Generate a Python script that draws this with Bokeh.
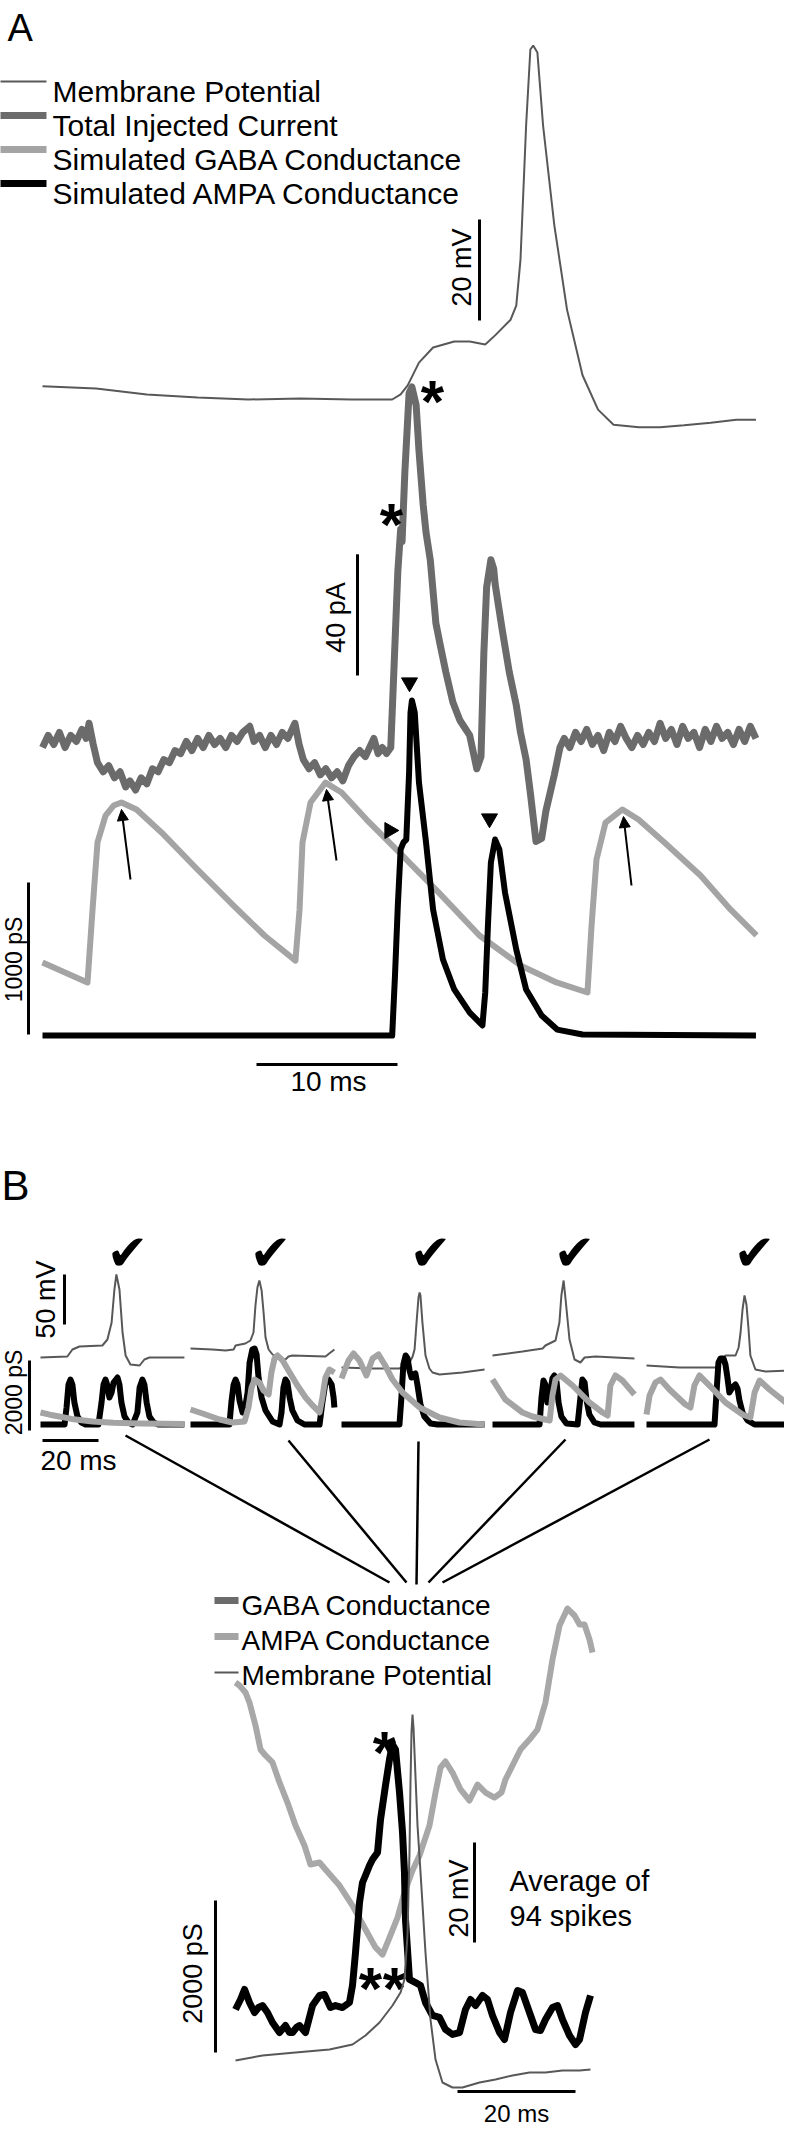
from math import pi
from bokeh.plotting import figure
from bokeh.models import Range1d, Arrow, NormalHead
from bokeh.core.properties import value
from bokeh.embed import file_html
from bokeh.resources import INLINE

# ======================= DATA =======================
# ---- Panel A (time in ms, Vm in mV, current in pA, conductance in pS)
a_t_vm = [0, 3.8, 7.4, 11.0, 14.6, 18.3, 21.9, 24.8, 25.4, 25.9, 26.7, 27.7, 29.2, 30.3, 31.4, 32.1,
          33.2, 33.6, 33.9, 34.3, 34.6, 34.8, 35.1, 35.5, 36.3, 37.2, 38.3, 39.4, 40.5, 42.3, 43.8,
          45.5, 47.4, 49.2, 50.6]
a_vm = [-62.4, -62.8, -64.0, -64.6, -65.0, -64.8, -65.0, -65.0, -64.0, -62.2, -57.7, -54.7, -53.5,
        -53.5, -54.1, -52.3, -49.2, -46.4, -37.3, -10.7, 4.3, 5.1, 3.7, -10.7, -30.5, -47.2, -60.2,
        -67.0, -70.0, -70.5, -70.5, -70.1, -69.6, -69.0, -69.0]

a_t_i = [0.0, 0.4, 0.8, 1.2, 1.6, 2.0, 2.4, 2.8, 3.1, 3.3,
         3.6, 3.9, 4.3, 4.7, 5.1, 5.5, 5.9, 6.2, 6.6, 7.0,
         7.4, 7.8, 8.2, 8.6, 9.0, 9.4, 9.8, 10.2, 10.6, 11.0,
         11.4, 11.8, 12.2, 12.6, 13.0, 13.4, 13.8, 14.2, 14.7, 15.0,
         15.4, 15.8, 16.2, 16.6, 17.0, 17.4, 17.9, 18.2, 18.5, 18.9,
         19.3, 19.7, 20.1, 20.5, 20.9, 21.3, 21.7, 22.1, 22.5, 22.9,
         23.2, 23.5, 23.8, 24.1, 24.4, 24.7, 24.9, 25.2, 25.4, 25.5,
         25.7, 26.0, 26.2, 26.5, 26.7, 27.0, 27.2, 27.5, 27.9, 28.2,
         28.6, 29.1, 29.6, 30.3, 30.8, 31.1, 31.3, 31.5, 31.8, 32.0,
         32.1, 32.6, 33.1, 33.6, 33.9, 34.3, 34.6, 35.0, 35.4, 35.7,
         36.3, 36.7, 37.0, 37.4, 37.8, 38.2, 38.6, 39.0, 39.4, 39.8,
         40.2, 40.6, 41.0, 41.4, 41.8, 42.2, 42.6, 43.0, 43.4, 43.8,
         44.2, 44.6, 45.0, 45.4, 45.8, 46.2, 46.6, 47.0, 47.4, 47.8,
         48.2, 48.6, 49.0, 49.4, 49.8, 50.2, 50.6]
a_i = [-1, 3, 0, 4, -1, 3, 1, 5, 2, 7,
       0, -6, -9, -7, -11, -9, -14, -12, -15, -11,
       -13, -8, -9, -5, -6, -2, -3, 1, -2, 2,
       -1, 3, 0, 2, -1, 3, 1, 4, 6, 1,
       3, -1, 3, 0, 4, 2, 7, 0, -5, -8,
       -6, -10, -8, -11, -9, -12, -7, -4, -2, -4,
       -1, 2, -3, -1, -3, -1, 22, 57, 71, 67,
       90, 116, 118, 112, 97, 79, 70, 61, 40, 33,
       24, 14, 8, 3, -8, -4, 30, 52, 61, 58,
       53, 38, 24, 13, 4, -5, -16, -32, -31, -22,
       -10, -1, 2, -1, 4, 1, 5, 0, 3, -2,
       4, 1, 6, 2, -1, 3, 0, 4, 1, 7,
       2, 5, 0, 6, 2, 4, -1, 5, 1, 6,
       2, 4, 0, 5, 1, 6, 2]

a_t_gaba = [0, 3.19, 3.55, 3.90, 4.47, 5.04, 5.60, 6.67, 8.44, 10.99, 13.55, 15.74, 17.94,
            18.23, 18.44, 19.01, 20.07, 21.21, 22.98, 25.53, 28.09, 30.99, 33.90, 36.45, 38.65,
            38.94, 39.29, 39.93, 41.13, 42.27, 44.11, 46.67, 48.79, 50.64]
a_gaba = [480, 349, 829, 1270, 1447, 1513, 1533, 1487, 1336, 1092, 855, 658, 493,
          829, 1270, 1533, 1664, 1599, 1421, 1184, 941, 658, 461, 349, 283,
          724, 1158, 1401, 1487, 1421, 1270, 1053, 829, 658]

a_t_ampa = [0, 24.8, 25.0, 25.2, 25.4, 25.6, 25.8, 26.0, 26.1, 26.2, 26.4, 26.7, 27.2, 27.7, 28.4,
            29.2, 30.3, 31.2, 31.4, 31.6, 31.8, 32.1, 32.4, 32.8, 33.6, 34.3, 35.4, 36.5, 38.3, 50.6]
a_ampa = [0, 0, 395, 855, 1224, 1270, 1289, 1730, 2125, 2204, 2125, 1664, 1270, 829, 500,
          303, 151, 66, 283, 743, 1138, 1289, 1224, 941, 566, 303, 132, 39, 7, 0]

# ---- Panel B, five example spikes (time in ms from window start)
b1_t_vm = [0, 9.6, 11.4, 13.9, 22.1, 23.9, 25.4, 26.4, 27.1, 28.2, 29.3, 30.4, 32.1, 35.4, 37.1, 38.9, 51.4]
b1_vm = [-65, -64, -57, -54, -53, -47, -30, 3, 18, 3, -40, -63, -72, -73, -67, -65, -65]
b1_t_ampa = [0, 8.6, 9.3, 10.0, 10.7, 11.4, 12.1, 13.2, 14.6, 16.1, 20.7, 21.8, 22.5, 23.2, 23.9, 24.6,
             25.4, 26.1, 27.5, 28.2, 28.9, 30.0, 31.4, 32.9, 34.6, 35.4, 36.4, 37.1, 37.9, 38.9,
             40.4, 42.1, 51.4]
b1_ampa = [0, 0, 486, 1143, 1286, 1143, 629, 229, 57, 0, 0, 629, 1143, 1286, 1114, 771,
           914, 1200, 1343, 1143, 629, 229, 57, 0, 343, 1057, 1286, 1143, 629, 229, 57, 0, 0]
b1_t_gaba = [0, 3.3, 6.7, 11.0, 18.6, 26.0, 36.0, 51.4]
b1_gaba = [343, 280, 229, 160, 86, 50, 29, 15]

b2_t_vm = [0, 7.9, 12.5, 15.4, 16.1, 19.6, 21.4, 22.5, 23.2, 23.9, 24.6, 25.4, 26.1, 26.8, 27.9,
           29.3, 31.8, 33.9, 35.0, 36.4, 48.2, 50.0, 51.4]
b2_vm = [-56, -57, -58, -57, -53, -51, -48, -40, -13, 5, 12, 2, -20, -45, -57, -62, -66, -67,
         -64, -63, -64, -60, -57]
b2_t_ampa = [0, 13.9, 14.6, 15.4, 16.1, 16.8, 17.5, 18.6, 19.3, 20.4, 21.1, 22.1, 22.9, 23.6, 24.3,
             25.4, 26.8, 29.3, 31.8, 32.5, 33.2, 33.9, 34.6, 35.4, 36.4, 38.2, 40.7, 46.1, 47.1,
             48.2, 49.3, 50.4, 51.1, 51.4]
b2_ampa = [0, 0, 629, 1143, 1286, 1143, 686, 343, 400, 914, 1771, 2143, 2171, 2000, 1343, 771,
           400, 86, 0, 343, 1057, 1286, 1200, 771, 400, 114, 0, 0, 629, 1200, 1286, 1143, 771, 486]
b2_t_gaba = [0, 4.3, 10.4, 15.0, 19.3, 20.7, 21.8, 22.9, 24.6, 26.1, 27.9, 28.9, 30.0, 31.1, 32.9,
             35.4, 38.2, 41.1, 43.6, 46.1, 47.1, 48.2, 49.6, 51.4]
b2_gaba = [429, 314, 143, 57, 86, 486, 1057, 1286, 1200, 971, 857, 1486, 1886, 1971, 1829,
           1486, 1114, 771, 543, 343, 771, 1343, 1571, 1486]

b3_t_vm = [0, 11.1, 20.7, 22.9, 24.3, 25.4, 26.1, 26.8, 27.5, 27.9, 28.2, 28.9, 30.0, 31.4, 32.5,
           35.0, 43.2, 51.1]
b3_vm = [-75, -76, -76, -73, -70, -64, -57, -30, -5, 0, -3, -30, -63, -76, -80, -82, -80, -77]
b3_t_ampa = [0, 20.7, 21.4, 22.1, 22.9, 23.6, 24.3, 25.0, 25.7, 26.4, 27.1, 28.2, 29.6, 31.8, 34.3, 51.1]
b3_ampa = [0, 0, 771, 1714, 1971, 1886, 1543, 1343, 1429, 1457, 1143, 571, 229, 29, 0, 0]
b3_t_gaba = [0, 2.5, 4.3, 6.4, 8.9, 11.1, 13.2, 15.4, 18.2, 21.8, 27.9, 35.0, 42.1, 51.1]
b3_gaba = [1314, 1829, 2029, 1829, 1400, 1886, 2000, 1714, 1286, 914, 486, 200, 57, 0]

b4_t_vm = [0, 10.7, 17.9, 18.9, 22.5, 23.9, 24.6, 25.4, 26.1, 27.5, 29.3, 31.4, 32.9, 36.8, 50.7]
b4_vm = [-63, -59, -56, -53, -48, -30, -3, 12, -7, -47, -67, -70, -65, -64, -66]
b4_t_ampa = [0, 16.8, 17.5, 18.2, 18.9, 19.6, 20.7, 21.4, 22.1, 22.9, 23.6, 24.6, 26.4, 30.4, 31.4,
             32.1, 32.9, 33.6, 34.6, 36.4, 38.6, 50.7]
b4_ampa = [0, 0, 771, 1257, 1143, 629, 914, 1314, 1400, 1200, 629, 229, 29, 0, 771, 1286, 1200,
           686, 286, 57, 0, 0]
b4_t_gaba = [0, 4.6, 10.7, 14.3, 20.4, 21.4, 22.5, 24.3, 28.6, 34.6, 39.3, 41.1, 42.1, 43.9, 46.4, 50.7]
b4_gaba = [1286, 714, 343, 229, 114, 829, 1286, 1400, 1114, 629, 343, 257, 1114, 1400, 1257, 857]

b5_t_vm = [0, 11.8, 24.6, 26.4, 28.2, 31.8, 32.9, 33.6, 34.3, 35.0, 35.7, 36.4, 37.1, 38.9, 42.5, 51.1]
b5_vm = [-73, -75, -75, -70, -63, -63, -55, -40, -17, -3, -12, -35, -63, -77, -79, -78]
b5_t_ampa = [0, 24.3, 25.0, 25.7, 26.4, 27.5, 28.2, 28.9, 29.6, 30.7, 31.8, 32.5, 33.2, 34.3, 36.1, 38.6, 51.1]
b5_ampa = [0, 0, 914, 1771, 1886, 1886, 1714, 1343, 914, 1057, 1143, 1029, 686, 343, 114, 0, 0]
b5_t_gaba = [0, 1.1, 3.2, 5.0, 8.2, 13.9, 15.7, 17.1, 18.9, 22.5, 28.2, 34.3, 37.1, 38.6, 40.4, 43.9, 51.1]
b5_gaba = [286, 829, 1200, 1286, 1000, 571, 486, 1114, 1400, 1114, 629, 286, 200, 914, 1257, 1000, 543]

# ---- Panel B, spike-triggered average of 94 spikes
c_t_gray = [0.0, 0.68, 1.69, 2.37, 3.39, 4.24, 5.08, 6.27, 7.46, 8.81,
            10.17, 11.69, 12.71, 14.24, 15.25, 16.44, 17.63, 19.83, 22.03, 23.73,
            24.92, 26.10, 27.46, 28.64, 30.0, 31.19, 32.88, 33.90, 34.75, 35.59,
            36.78, 38.14, 39.66, 41.02, 42.37, 43.90, 45.08, 45.76, 46.95, 48.31,
            49.83, 51.19, 52.54, 53.73, 54.92, 56.27, 57.46, 58.31, 59.15, 60.0, 60.51]
c_gray = [4868, 4829, 4737, 4605, 4303, 3987, 3908, 3816, 3553, 3289,
          2987, 2724, 2474, 2500, 2408, 2303, 2197, 1934, 1618, 1382,
          1289, 1513, 1776, 2105, 2395, 2592, 2987, 3421, 3750, 3829,
          3684, 3461, 3316, 3526, 3421, 3355, 3421, 3592, 3776, 3987,
          4118, 4250, 4605, 5171, 5618, 5842, 5750, 5632, 5632, 5434, 5263]
c_t_black = [0.0, 0.85, 1.53, 2.37, 3.22, 3.90, 4.58, 5.42, 6.27, 7.46,
             8.47, 9.15, 9.66, 10.34, 10.85, 11.86, 13.05, 14.24, 15.08, 16.10,
             16.95, 18.14, 19.32, 19.83, 20.34, 21.02, 21.53, 22.03, 22.71, 23.22,
             24.07, 24.58, 25.42, 26.10, 26.61, 27.12, 27.80, 28.31, 28.64, 28.81,
             29.49, 30.51, 31.36, 32.20, 33.39, 34.58, 35.59, 36.78, 37.97, 38.98,
             39.83, 40.68, 41.86, 42.71, 43.56, 44.75, 45.59, 46.61, 47.80, 48.64,
             49.83, 50.85, 51.69, 52.54, 53.73, 54.58, 55.42, 56.61, 57.63, 58.31,
             59.32, 60.17]
c_black = [566, 697, 829, 658, 526, 592, 618, 526, 395, 263,
           355, 263, 263, 329, 355, 263, 618, 750, 763, 592,
           618, 592, 658, 882, 1316, 1974, 2237, 2329, 2461, 2539,
           2632, 3066, 3513, 3855, 4053, 3987, 3421, 2895, 2368, 1750,
           961, 921, 882, 658, 487, 461, 303, 237, 263, 566,
           697, 618, 750, 697, 487, 263, 171, 526, 816, 789,
           526, 303, 289, 434, 592, 618, 434, 224, 105, 171,
           526, 750]
c_t_vm = [0.0, 4.58, 10.17, 15.93, 19.83, 22.03, 24.41, 26.61, 27.97, 28.64,
          29.15, 29.49, 29.66, 29.83, 30.0, 30.17, 30.34, 30.85, 31.36, 32.20,
          33.05, 33.90, 35.08, 36.78, 38.47, 41.36, 44.07, 46.95, 49.83, 52.54,
          55.42, 58.31, 60.17]
c_vm = [-65.0, -64.0, -63.4, -62.8, -61.8, -60.0, -57.4, -54.0, -51.4, -48.8,
        -40.0, -23.4, -9.4, 0.6, 4.2, 1.6, -3.4, -18.0, -27.4, -43.4,
        -56.8, -64.8, -69.4, -70.4, -70.4, -69.4, -68.8, -68.0, -67.4, -67.4,
        -67.0, -67.0, -66.8]

legend_a = ["Membrane Potential", "Total Injected Current",
            "Simulated GABA Conductance", "Simulated AMPA Conductance"]
legend_c = ["GABA Conductance", "AMPA Conductance", "Membrane Potential"]

# ======================= LAYOUT =======================
W, H = 784, 2130
L, T = 8, 8
FONT = "Liberation Sans"
C_VM = "#585858"
C_CUR = "#6b6b6b"
C_LIGHT = "#a4a4a4"


def xr(px, val, ppu):
    return Range1d(start=val - (px - L) / ppu, end=val + (L + W - px) / ppu)


def yr(py, val, ppu):
    return Range1d(start=val - (T + H - py) / ppu, end=val + (py - T) / ppu)


def xv(px, sc):
    return sc[1] + (px - sc[0]) / sc[2]


def yv(py, sc):
    return sc[1] + (sc[0] - py) / sc[2]


# (anchor pixel, value at anchor, pixels per unit)
SA_T = (50, 0, 14.1)
SA_V = (407, -65, 5.05)
SA_I = (752, 0, 3.03)
SA_G = (1043, 0, 0.152)
SB_X0 = [48, 198, 349, 500, 654]
SB_T = 2.8
SB_V = (1365, -65, 1.0)
SB_G = (1432, 0, 0.035)
SC_T = (243, 0, 5.9)
SC_V = (2068, -65, 5.0)
SC_G = (2060, 0, 0.076)

p = figure(width=W, height=H, x_range=Range1d(L, L + W), y_range=Range1d(T + H, T),
           x_axis_location=None, y_axis_location=None, toolbar_location=None,
           output_backend="svg", min_border=0, outline_line_color=None,
           background_fill_color="white", border_fill_color="white")
p.grid.visible = False

xranges = {"tA": xr(*SA_T), "tC": xr(*SC_T)}
for k, x0 in enumerate(SB_X0):
    xranges[f"tB{k}"] = xr(x0, 0, SB_T)
p.extra_x_ranges = xranges
p.extra_y_ranges = {"vA": yr(*SA_V), "iA": yr(*SA_I), "gA": yr(*SA_G),
                    "vB": yr(*SB_V), "gB": yr(*SB_G), "vC": yr(*SC_V), "gC": yr(*SC_G)}

# ---------------- Panel A ----------------
p.line(a_t_vm, a_vm, x_range_name="tA", y_range_name="vA", line_color=C_VM, line_width=2)
p.line(a_t_i, a_i, x_range_name="tA", y_range_name="iA", line_color=C_CUR, line_width=7,
       line_join="round")
p.line(a_t_gaba, a_gaba, x_range_name="tA", y_range_name="gA", line_color=C_LIGHT, line_width=6,
       line_join="round")
p.line(a_t_ampa, a_ampa, x_range_name="tA", y_range_name="gA", line_color="black", line_width=6,
       line_join="round")

# legend A
for i, (lw, col) in enumerate([(2, C_VM), (7, C_CUR), (7, C_LIGHT), (7, "black")]):
    yy = 89 + i * 34
    p.line([6, 54], [yy, yy], line_color=col, line_width=lw)
p.text(x=[60] * 4, y=[99 + i * 34 for i in range(4)], text=legend_a, text_font=value(FONT),
       text_font_size="30px", text_baseline="alphabetic", text_align="left", text_color="black")

# scale bars A
p.line([487, 487], [yv(328, SA_V), yv(328, SA_V) + 20], y_range_name="vA", line_color="black", line_width=3)
p.line([365, 365], [yv(683, SA_I), yv(683, SA_I) + 40], y_range_name="iA", line_color="black", line_width=3)
p.line([36, 36], [yv(1042, SA_G), yv(1042, SA_G) + 1000], y_range_name="gA", line_color="black", line_width=3)
p.line([xv(264, SA_T), xv(264, SA_T) + 10], [1072, 1072], x_range_name="tA", line_color="black", line_width=3)
p.text(x=[469, 343], y=[275, 625], text=["20 mV", "40 pA"], angle=pi / 2,
       text_font=value(FONT), text_font_size="27px", text_align="center", text_baseline="middle")
p.text(x=[21], y=[967], text=["1000 pS"], angle=pi / 2,
       text_font=value(FONT), text_font_size="23px", text_align="center", text_baseline="middle")
p.text(x=[336], y=[1089], text=["10 ms"], text_font=value(FONT), text_font_size="28px",
       text_align="center", text_baseline="middle")

# arrows and arrowheads A
for xs, ys, xe, ye in [(138, 887, 129, 817), (344, 868, 334, 797), (639, 893, 631, 824)]:
    p.add_layout(Arrow(end=NormalHead(size=11, fill_color="black", line_color="black"),
                       x_start=xs, y_start=ys, x_end=xe, y_end=ye, line_width=2, line_color="black"))
p.scatter(x=[417, 497], y=[690, 826], marker="triangle", size=16, angle=pi, color="black")
p.scatter(x=[397, ], y=[838], marker="triangle", size=16, angle=-pi / 2, color="black")
p.text(x=[440, 399, 392, 378, 402], y=[391 + 18, 514 + 18, 1742 + 18, 1978 + 18, 1978 + 18],
       text=["*"] * 5, text_font=value(FONT), text_font_style="bold", text_font_size="60px",
       text_align="center", text_baseline="alphabetic")

p.text(x=[15], y=[35], text=["A"], text_font=value(FONT), text_font_size="38px",
       text_baseline="alphabetic", text_align="left")
p.text(x=[9], y=[1193], text=["B"], text_font=value(FONT), text_font_size="42px",
       text_baseline="alphabetic", text_align="left")

# ---------------- Panel B small windows ----------------
panels = [(b1_t_vm, b1_vm, b1_t_ampa, b1_ampa, b1_t_gaba, b1_gaba),
          (b2_t_vm, b2_vm, b2_t_ampa, b2_ampa, b2_t_gaba, b2_gaba),
          (b3_t_vm, b3_vm, b3_t_ampa, b3_ampa, b3_t_gaba, b3_gaba),
          (b4_t_vm, b4_vm, b4_t_ampa, b4_ampa, b4_t_gaba, b4_gaba),
          (b5_t_vm, b5_vm, b5_t_ampa, b5_ampa, b5_t_gaba, b5_gaba)]
for k, (tv, v, ta, ga, tg, gg) in enumerate(panels):
    xn = f"tB{k}"
    p.line(tv, v, x_range_name=xn, y_range_name="vB", line_color=C_VM, line_width=2)
    p.line(ta, ga, x_range_name=xn, y_range_name="gB", line_color="black", line_width=6,
           line_join="round")
    p.line(tg, gg, x_range_name=xn, y_range_name="gB", line_color=C_LIGHT, line_width=6,
           line_join="round")

p.text(x=[135, 278, 438, 582, 762], y=[1260] * 5, text=["\u2714"] * 5,
       text_font=value("DejaVu Sans"), text_font_size="50px", text_align="center",
       text_baseline="middle", text_color="black")

# scale bars B small
p.line([72, 72], [yv(1332, SB_V), yv(1332, SB_V) + 50], y_range_name="vB", line_color="black", line_width=3)
p.line([37, 37], [yv(1438, SB_G), yv(1438, SB_G) + 2000], y_range_name="gB", line_color="black", line_width=3)
p.line([(50 - SB_X0[0]) / SB_T, (50 - SB_X0[0]) / SB_T + 20], [1448, 1448], x_range_name="tB0",
       line_color="black", line_width=3)
p.text(x=[53], y=[1307], text=["50 mV"], angle=pi / 2, text_font=value(FONT),
       text_font_size="27px", text_align="center", text_baseline="middle")
p.text(x=[21], y=[1400], text=["2000 pS"], angle=pi / 2, text_font=value(FONT),
       text_font_size="23px", text_align="center", text_baseline="middle")
p.text(x=[86], y=[1468], text=["20 ms"], text_font=value(FONT), text_font_size="28px",
       text_align="center", text_baseline="middle")

# fan lines
p.segment(x0=[133, 296, 426, 573, 717], y0=[1443, 1448, 1449, 1447, 1447],
          x1=[397, 414, 424, 436, 450], y1=[1590, 1590, 1592, 1590, 1590],
          line_color="black", line_width=2.5)

# ---------------- Panel B average ----------------
p.line(c_t_gray, c_gray, x_range_name="tC", y_range_name="gC", line_color="#a8a8a8", line_width=6,
       line_join="round")
p.line(c_t_black, c_black, x_range_name="tC", y_range_name="gC", line_color="black", line_width=7,
       line_join="round")
p.line(c_t_vm, c_vm, x_range_name="tC", y_range_name="vC", line_color=C_VM, line_width=2)

for i, (lw, col) in enumerate([(7, C_CUR), (7, C_LIGHT), (2, C_VM)]):
    yy = 1608 + i * 36
    p.line([222, 246], [yy, yy], line_color=col, line_width=lw)
p.text(x=[249] * 3, y=[1613 + i * 35 for i in range(3)], text=legend_c, text_font=value(FONT),
       text_font_size="28px", text_baseline="alphabetic", text_align="left")

p.line([223, 223], [yv(2060, SC_G), yv(2060, SC_G) + 2000], y_range_name="gC", line_color="black", line_width=3)
p.line([482, 482], [yv(1950, SC_V), yv(1950, SC_V) + 20], y_range_name="vC", line_color="black", line_width=3)
p.line([xv(465, SC_T), xv(465, SC_T) + 20], [2099, 2099], x_range_name="tC", line_color="black", line_width=3)
p.text(x=[200, 466], y=[1981, 1906], text=["2000 pS", "20 mV"], angle=pi / 2, text_font=value(FONT),
       text_font_size="27px", text_align="center", text_baseline="middle")
p.text(x=[517, 517], y=[1888, 1923], text=["Average of", "94 spikes"], text_font=value(FONT),
       text_font_size="29px", text_align="left", text_baseline="alphabetic")
p.text(x=[524], y=[2121], text=["20 ms"], text_font=value(FONT), text_font_size="24px",
       text_align="center", text_baseline="alphabetic")

open("out.html", "w").write(file_html(p, INLINE, title="Figure"))
